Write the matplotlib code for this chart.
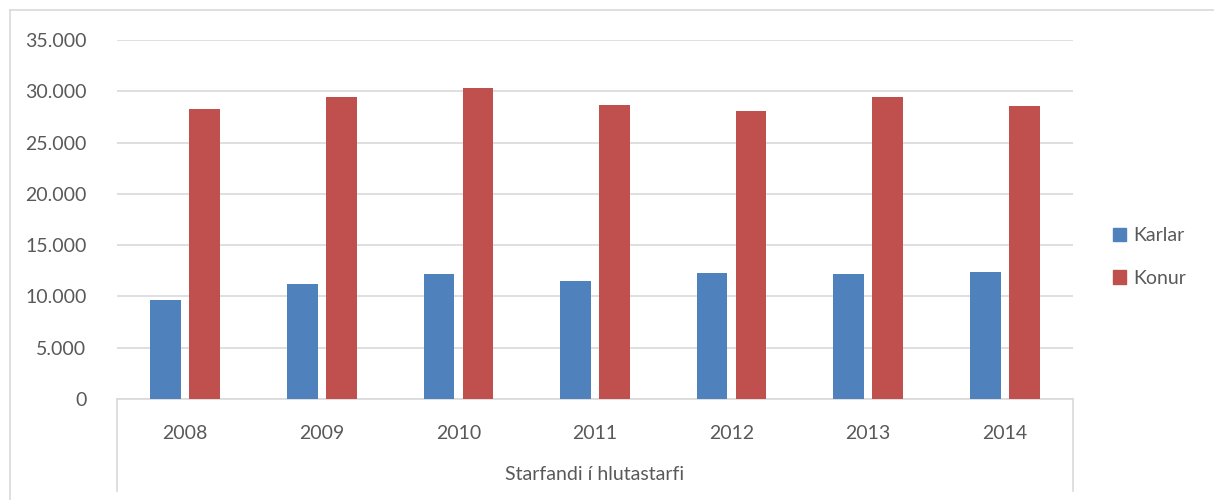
import matplotlib
matplotlib.use("Agg")
import matplotlib.pyplot as plt
from matplotlib.lines import Line2D
from matplotlib.ticker import FuncFormatter
import numpy as np

years = ["2008", "2009", "2010", "2011", "2012", "2013", "2014"]
karlar = [9700, 11200, 12200, 11500, 12300, 12200, 12400]
konur = [28300, 29400, 30300, 28700, 28100, 29400, 28600]
series_names = ["Karlar", "Konur"]
colors = ["#4F81BD", "#C0504D"]
yticks = [0, 5000, 10000, 15000, 20000, 25000, 30000, 35000]
group_label = "Starfandi í hlutastarfi"

plt.rcParams['font.family'] = ['Lato', 'DejaVu Sans']
W, H = 1214, 500
fig = plt.figure(figsize=(W / 100, H / 100), dpi=100)

def fx(px):
    return px / W

def fy(py):
    return 1 - py / H

ax = fig.add_axes([fx(117), fy(399), fx(1073) - fx(117), fy(40) - fy(399)])

x = np.arange(len(years))
bw = 0.225
gap = 0.06
off = (bw + gap) / 2
ax.bar(x - off, karlar, bw, color=colors[0], label=series_names[0], zorder=3)
ax.bar(x + off, konur, bw, color=colors[1], label=series_names[1], zorder=3)

ax.set_xlim(-0.5, len(years) - 0.5)
ax.set_ylim(0, 35000)
ax.set_yticks(yticks)
ax.yaxis.set_major_formatter(FuncFormatter(lambda v, p: f"{int(v):,}".replace(",", ".")))
ax.grid(axis="y", color="#D9D9D9", linewidth=1.2, zorder=0)
for s in ["top", "right", "left"]:
    ax.spines[s].set_visible(False)
ax.spines["bottom"].set_color("#D9D9D9")
ax.spines["bottom"].set_linewidth(1.2)
ax.tick_params(axis="y", length=0, pad=22, labelsize=14, labelcolor="#595959")
ax.tick_params(axis="x", length=0, pad=19, labelsize=14, labelcolor="#595959")
ax.set_xticks(x)
ax.set_xticklabels(years)

# group label
fig.text(fx(595), fy(474), group_label, ha="center", va="center", fontsize=14, color="#595959")

# category box lines
for px in (116.5, 1072.5):
    fig.add_artist(Line2D([fx(px), fx(px)], [fy(399), fy(491)], color="#D9D9D9", linewidth=1.2))

# outer chart border
fig.add_artist(Line2D([fx(9.5), fx(9.5)], [fy(10), 0], color="#D9D9D9", linewidth=1.2))
fig.add_artist(Line2D([fx(9.5), 1], [fy(10), fy(10)], color="#D9D9D9", linewidth=1.2))

# legend
handles = [plt.Rectangle((0, 0), 1, 1, color=c) for c in colors]
leg = fig.legend(handles, series_names, loc="center left", bbox_to_anchor=(fx(1095), fy(257)),
                 frameon=False, fontsize=14, handlelength=0.7, handleheight=0.7,
                 handletextpad=0.35, labelspacing=1.3, labelcolor="#595959")

fig.savefig("out.png", dpi=100)
